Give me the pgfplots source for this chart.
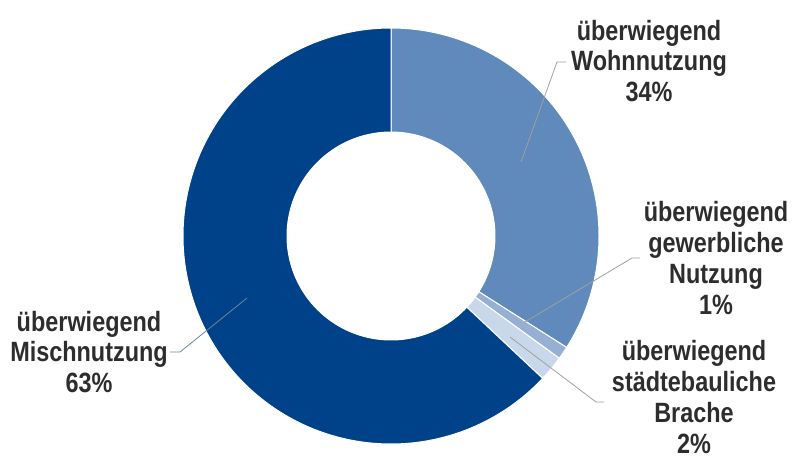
\documentclass[border=0pt]{standalone}
\usepackage{fontspec}
\setmainfont{Liberation Sans}[FakeStretch=0.84]
\usepackage{pgfplots}
\pgfplotsset{compat=1.18}
\definecolor{cMisch}{RGB}{0,66,137}
\definecolor{cWohn}{RGB}{95,138,187}
\definecolor{cGew}{RGB}{150,176,212}
\definecolor{cBra}{RGB}{201,215,235}
\definecolor{cTxt}{RGB}{45,45,45}
\definecolor{cLine}{RGB}{160,160,160}
\begin{document}
\begin{tikzpicture}
\begin{axis}[
  width=794bp, height=461bp, scale only axis,
  xmin=0, xmax=794, ymin=0, ymax=461, y dir=reverse,
  hide axis, clip=false,
]
\addplot[draw=none] coordinates {(0,0) (794,461)};
% slices: cumulative shares in percent, clockwise from top
\addplot[fill=cWohn, draw=white, line width=1pt, domain=0:34, samples=80]
  ({391+208*sin(3.6*x)},{236-208*cos(3.6*x)}) -- (axis cs:391,236) -- cycle;
\addplot[fill=cGew, draw=white, line width=1pt, domain=34:35, samples=5]
  ({391+208*sin(3.6*x)},{236-208*cos(3.6*x)}) -- (axis cs:391,236) -- cycle;
\addplot[fill=cBra, draw=white, line width=1pt, domain=35:37, samples=8]
  ({391+208*sin(3.6*x)},{236-208*cos(3.6*x)}) -- (axis cs:391,236) -- cycle;
\addplot[fill=cMisch, draw=white, line width=1pt, domain=37:100, samples=150]
  ({391+208*sin(3.6*x)},{236-208*cos(3.6*x)}) -- (axis cs:391,236) -- cycle;
% hole
\addplot[fill=white, draw=white, line width=1pt, domain=0:100, samples=150]
  ({391+104*sin(3.6*x)},{236-104*cos(3.6*x)}) -- cycle;
% leader lines
\addplot[cLine, line width=0.8pt] coordinates {(521,162) (557,62) (566,62)};
\addplot[cLine, line width=0.8pt] coordinates {(525,322) (632,258) (640,258)};
\addplot[cLine, line width=0.8pt] coordinates {(510,337) (596,402) (604,402)};
\addplot[cLine!70!cMisch, line width=0.8pt] coordinates {(247,298) (180,352) (170,352)};
% labels
\tikzset{lab/.style={align=center, inner sep=0pt, text=cTxt,
  font=\fontsize{28}{31}\selectfont\bfseries}}
\node[lab] at (axis cs:649,61) {überwiegend\\Wohnnutzung\\34\%};
\node[lab] at (axis cs:716,258) {überwiegend\\gewerbliche\\Nutzung\\1\%};
\node[lab] at (axis cs:694,397) {überwiegend\\städtebauliche\\Brache\\2\%};
\node[lab] at (axis cs:89,352) {überwiegend\\Mischnutzung\\63\%};
\end{axis}
\end{tikzpicture}
\end{document}
